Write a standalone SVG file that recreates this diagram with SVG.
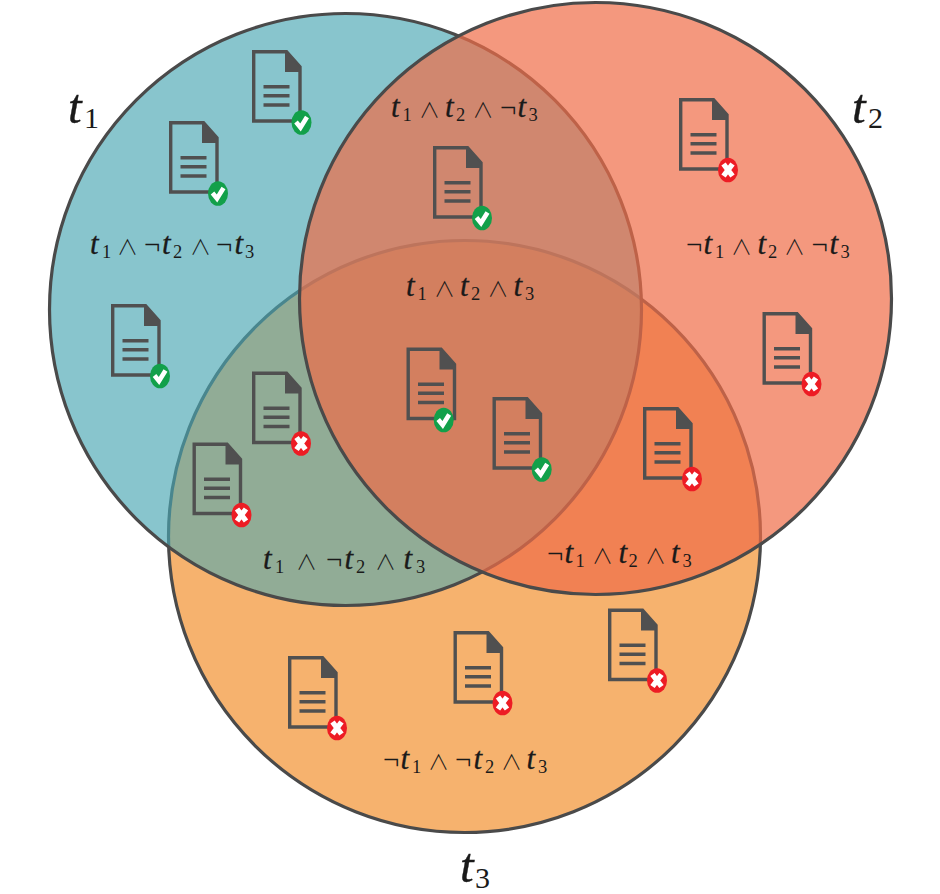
<svg xmlns="http://www.w3.org/2000/svg" width="940" height="894" viewBox="0 0 940 894">
<style>
.c{stroke:#4a4a4a;stroke-width:3.2}
.d{fill:none;stroke:#505050;stroke-width:3.4}
.f{fill:#505050}
.b{stroke:#505050;stroke-width:3.6}
.w{fill:none;stroke:#fff}
text{fill:#1a1a1a;font-family:"Liberation Serif","DejaVu Serif",serif;font-size:27px}
.t{font-style:italic;font-size:31px;stroke:#1a1a1a;stroke-width:.3}
.s{font-size:18.5px}
.n{font-size:29px}
.o{font-family:"Noto Sans CJK JP",sans-serif;font-size:21px;font-weight:300}
.T{font-style:italic;font-size:49px;stroke:#1a1a1a;stroke-width:.4}
.S{font-size:30px}
</style>
<defs>
<clipPath id="in-t1"><circle cx="345.5" cy="309.5" r="294.4"/></clipPath>
<g id="doc">
<path class="d" d="M1.7 1.7H34.5L48 17V71H1.7Z"/>
<path class="f" d="M33 1L49 19V22H33Z"/>
<path class="b" d="M11.5 36.7H37.5M11.5 45.7H37.5M11.5 55H37.5"/>
</g>
<g id="ok"><ellipse rx="10" ry="12.3" fill="#12a04a"/><path class="w" stroke-width="4.6" d="M-5.500 -.5L-1 5L5.500-5.500"/></g>
<g id="no"><ellipse rx="10" ry="12.3" fill="#ed1c24"/><path class="w" stroke-width="5.4" d="M-4.500-6L4.500 6M4.500-6L-4.500 6"/></g>
</defs>
<g id="connectors"></g>
<g id="sets">
<circle id="set-t3" class="c" cx="464.5" cy="536.5" r="296" fill="#f29131" fill-opacity=".7"/>
<circle id="set-t1" class="c" cx="345.5" cy="309.5" r="296" fill="#48a6b2" fill-opacity=".65"/>
<circle cx="464.5" cy="536.5" r="294.4" fill="#ffc878" fill-opacity=".1" clip-path="url(#in-t1)"/>
<circle id="set-t2" class="c" cx="595.5" cy="298.5" r="296" fill="#ef6c47" fill-opacity=".7"/>
</g>
<g id="doc1"><use href="#doc" x="252" y="50"/><use href="#ok" x="301.500" y="122.500"/></g>
<g id="doc2"><use href="#doc" x="169" y="121"/><use href="#ok" x="218" y="193.500"/></g>
<g id="doc3"><use href="#doc" x="433" y="146"/><use href="#ok" x="482" y="218"/></g>
<g id="doc4"><use href="#doc" x="111" y="304"/><use href="#ok" x="160" y="376"/></g>
<g id="doc5"><use href="#doc" x="406.500" y="347.500"/><use href="#ok" x="443.700" y="420"/></g>
<g id="doc6"><use href="#doc" x="492.500" y="397"/><use href="#ok" x="541.700" y="469.500"/></g>
<g id="doc7"><use href="#doc" x="252" y="371.500"/><use href="#no" x="301" y="443.500"/></g>
<g id="doc8"><use href="#doc" x="192.500" y="442.500"/><use href="#no" x="241.500" y="515"/></g>
<g id="doc9"><use href="#doc" x="643" y="407"/><use href="#no" x="692" y="479"/></g>
<g id="doc10"><use href="#doc" x="679" y="98"/><use href="#no" x="728" y="170"/></g>
<g id="doc11"><use href="#doc" x="762.500" y="312"/><use href="#no" x="811.500" y="384"/></g>
<g id="doc12"><use href="#doc" x="288" y="656"/><use href="#no" x="337" y="728"/></g>
<g id="doc13"><use href="#doc" x="453.500" y="631"/><use href="#no" x="502.500" y="703"/></g>
<g id="doc14"><use href="#doc" x="608" y="608.500"/><use href="#no" x="657" y="680.500"/></g>
<g id="labels">
<text id="label-t1"><tspan class="T" x="68" y="123">t</tspan><tspan class="S" x="84" y="128">1</tspan></text>
<text id="label-t2"><tspan class="T" x="852" y="123">t</tspan><tspan class="S" x="868" y="128">2</tspan></text>
<text id="label-t3"><tspan class="T" x="460" y="882">t</tspan><tspan class="S" x="475" y="888">3</tspan></text>
<text id="r110"><tspan class="t" x="391" y="116.500">t</tspan><tspan class="s" x="402.500" y="120.500">1</tspan><tspan class="o" x="419" y="116.500">∧</tspan><tspan class="t" x="445" y="116.500">t</tspan><tspan class="s" x="456" y="120.500">2</tspan><tspan class="o" x="472.500" y="116.500">∧</tspan><tspan class="n" x="500" y="116.500">¬</tspan><tspan class="t" x="517.500" y="116.500">t</tspan><tspan class="s" x="528.500" y="120.500">3</tspan></text>
<text id="r100"><tspan class="t" x="90" y="254">t</tspan><tspan class="s" x="102" y="258">1</tspan><tspan class="o" x="117" y="254">∧</tspan><tspan class="n" x="144" y="254">¬</tspan><tspan class="t" x="162" y="254">t</tspan><tspan class="s" x="173" y="258">2</tspan><tspan class="o" x="190" y="254">∧</tspan><tspan class="n" x="216" y="254">¬</tspan><tspan class="t" x="234.500" y="254">t</tspan><tspan class="s" x="245" y="258">3</tspan></text>
<text id="r010"><tspan class="n" x="686" y="254">¬</tspan><tspan class="t" x="703.500" y="254">t</tspan><tspan class="s" x="715" y="258">1</tspan><tspan class="o" x="731" y="254">∧</tspan><tspan class="t" x="757.500" y="254">t</tspan><tspan class="s" x="768" y="258">2</tspan><tspan class="o" x="784" y="254">∧</tspan><tspan class="n" x="811.500" y="254">¬</tspan><tspan class="t" x="829.500" y="254">t</tspan><tspan class="s" x="840.500" y="258">3</tspan></text>
<text id="r111"><tspan class="t" x="406" y="296">t</tspan><tspan class="s" x="417.500" y="300">1</tspan><tspan class="o" x="434" y="296">∧</tspan><tspan class="t" x="460" y="296">t</tspan><tspan class="s" x="471" y="300">2</tspan><tspan class="o" x="487.500" y="296">∧</tspan><tspan class="t" x="513.500" y="296">t</tspan><tspan class="s" x="525" y="300">3</tspan></text>
<text id="r101"><tspan class="t" x="263" y="569">t</tspan><tspan class="s" x="275" y="573">1</tspan><tspan class="o" x="296" y="569">∧</tspan><tspan class="n" x="326" y="569">¬</tspan><tspan class="t" x="344.500" y="569">t</tspan><tspan class="s" x="356" y="573">2</tspan><tspan class="o" x="375" y="569">∧</tspan><tspan class="t" x="403.500" y="569">t</tspan><tspan class="s" x="416" y="573">3</tspan></text>
<text id="r011"><tspan class="n" x="547" y="563">¬</tspan><tspan class="t" x="564.500" y="563">t</tspan><tspan class="s" x="575.500" y="567">1</tspan><tspan class="o" x="592" y="563">∧</tspan><tspan class="t" x="618.500" y="563">t</tspan><tspan class="s" x="628.500" y="567">2</tspan><tspan class="o" x="645" y="563">∧</tspan><tspan class="t" x="671" y="563">t</tspan><tspan class="s" x="682.500" y="567">3</tspan></text>
<text id="r001"><tspan class="n" x="383" y="769">¬</tspan><tspan class="t" x="400.500" y="769">t</tspan><tspan class="s" x="412" y="773">1</tspan><tspan class="o" x="428" y="769">∧</tspan><tspan class="n" x="455" y="769">¬</tspan><tspan class="t" x="473.500" y="769">t</tspan><tspan class="s" x="485" y="773">2</tspan><tspan class="o" x="501" y="769">∧</tspan><tspan class="t" x="526.500" y="769">t</tspan><tspan class="s" x="538" y="773">3</tspan></text>
</g>
</svg>
